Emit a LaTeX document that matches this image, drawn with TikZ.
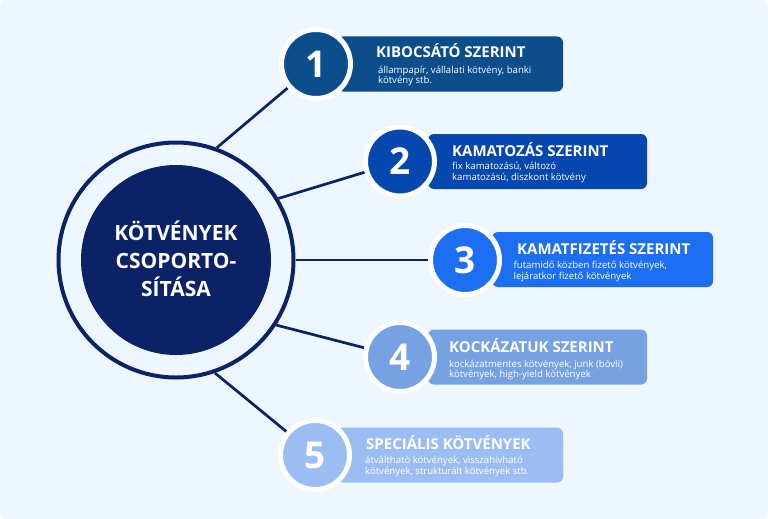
\documentclass[tikz,border=0pt]{standalone}
\usepackage{fontspec}
\setmainfont{Open Sans}
\definecolor{bgc}{HTML}{EEF6FF}
\definecolor{navy}{HTML}{0B2366}
\definecolor{cA}{HTML}{0C4E8C}
\definecolor{cB}{HTML}{0447AE}
\definecolor{cC}{HTML}{1C6EF2}
\definecolor{cD}{HTML}{76A1E2}
\definecolor{cE}{HTML}{9BBDF2}
\pgfdeclarelayer{bglayer}
\pgfdeclarelayer{linelayer}
\pgfsetlayers{bglayer,linelayer,main}
\begin{document}
\begin{tikzpicture}[x=1pt,y=-1pt,
  infobox/.style={rounded corners=6pt, minimum height=55pt, inner sep=0pt},
  numc/.style={circle, draw=white, line width=5pt, minimum size=69pt, inner sep=0pt, text=white, font=\bfseries\fontsize{37}{37}\selectfont},
  ttl/.style={anchor=base west, inner sep=0pt, text=white, font=\bfseries\fontsize{15}{15}\selectfont},
  sub/.style={anchor=base west, inner sep=0pt, text=white, font=\fontsize{9.6}{9.6}\selectfont},
  ctext/.style={anchor=base, inner sep=0pt, text=white, font=\bfseries\fontsize{21}{21}\selectfont},
  conn/.style={draw=navy, line width=2.7pt}]
\useasboundingbox (0,0) rectangle (768,519);
\begin{pgfonlayer}{bglayer}
  \fill[white] (0,0) rectangle (768,519);
  \fill[bgc, rounded corners=6pt] (0,0) rectangle (768,519);
\end{pgfonlayer}
% central
\node[circle, draw=navy, line width=4pt, minimum size=235pt, inner sep=0pt] (ring) at (176,260) {};
\node[circle, fill=navy, minimum size=190pt, inner sep=0pt] (main) at (176,260) {};
\node[ctext] (c1) at (176,240) {KÖTVÉNYEK};
\node[ctext] (c2) at (176,268) {CSOPORTO-};
\node[ctext] (c3) at (176,296) {SÍTÁSA};
% boxes
\node[infobox, fill=cA, minimum width=226pt] (b1) at (450,64) {};
\node[infobox, fill=cB, minimum width=219pt] (b2) at (537.5,161.5) {};
\node[infobox, fill=cC, minimum width=221pt] (b3) at (602.5,259.5) {};
\node[infobox, fill=cD, minimum width=219pt] (b4) at (537.5,357) {};
\node[infobox, fill=cE, minimum width=226pt] (b5) at (450,455) {};
% number circles
\node[numc, fill=cA] (n1) at (316,64) {1};
\node[numc, fill=cB] (n2) at (400,161.5) {2};
\node[numc, fill=cC] (n3) at (465,260) {3};
\node[numc, fill=cD] (n4) at (400,357) {4};
\node[numc, fill=cE] (n5) at (315,455) {5};
% texts
\node[ttl] (t1) at (376,58) {KIBOCSÁTÓ SZERINT};
\node[sub] (s1a) at (378,73.3) {állampapír, vállalati kötvény, banki};
\node[sub] (s1b) at (378,84) {kötvény stb.};
\node[ttl] (t2) at (452,156) {KAMATOZÁS SZERINT};
\node[sub] (s2a) at (452,169.5) {fix kamatozású, változó};
\node[sub] (s2b) at (452,180.7) {kamatozású, diszkont kötvény};
\node[ttl] (t3) at (517,254) {KAMATFIZETÉS SZERINT};
\node[sub] (s3a) at (513.5,268) {futamidő közben fizető kötvények,};
\node[sub] (s3b) at (513.5,279) {lejáratkor fizető kötvények};
\node[ttl] (t4) at (449,352) {KOCKÁZATUK SZERINT};
\node[sub] (s4a) at (449,367) {kockázatmentes kötvények, junk (bóvli)};
\node[sub] (s4b) at (449,377.7) {kötvények, high-yield kötvények};
\node[ttl] (t5) at (366,449) {SPECIÁLIS KÖTVÉNYEK};
\node[sub] (s5a) at (365,463) {átváltható kötvények, visszahívható};
\node[sub] (s5b) at (365,474) {kötvények, strukturált kötvények stb.};
% connectors
\begin{pgfonlayer}{linelayer}
  \draw[conn] (ring.70) -- (n1);
  \draw[conn] (ring.31) -- (n2);
  \draw[conn] (ring.0) -- (n3);
  \draw[conn] (ring.-33) -- (n4);
  \draw[conn] (ring.-71) -- (n5);
\end{pgfonlayer}
\end{tikzpicture}
\end{document}
